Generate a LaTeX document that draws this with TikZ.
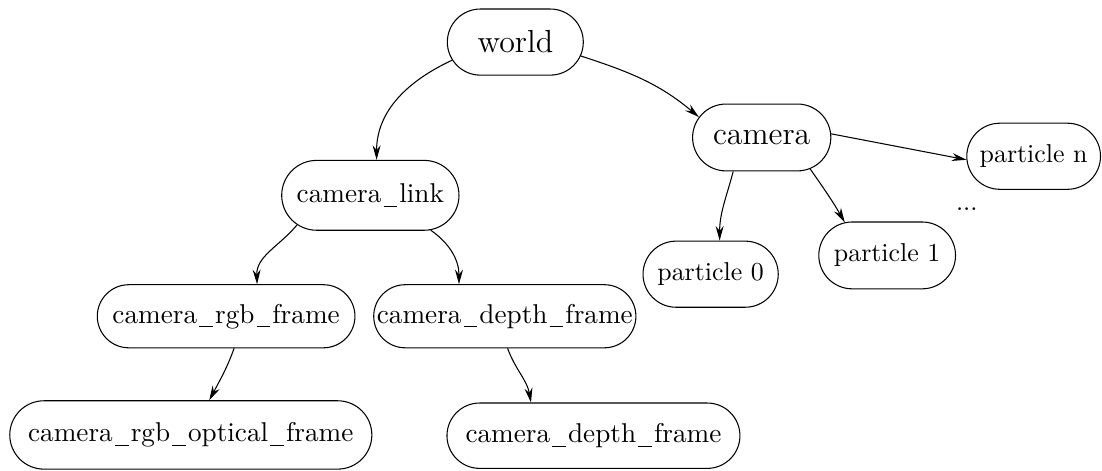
\documentclass[tikz,border=0pt]{standalone}
\usetikzlibrary{shapes.misc, arrows.meta, positioning}

% short underscore as in the frame names
\newcommand{\tfus}{\kern0.08em\rule[-0.35ex]{0.5em}{0.4pt}\kern0.08em}

\begin{document}
\begin{tikzpicture}[>={Stealth[length=5.5pt, width=3pt]}, thin]
    % Styles
    \tikzstyle{tf} = [draw, rounded rectangle, inner sep=0pt, minimum height=0.88cm]
    \tikzstyle{bigtf} = [tf, font=\fontsize{12.1}{14}\selectfont]
    \tikzstyle{frametf} = [tf, font=\fontsize{10.3}{13}\selectfont]
    \tikzstyle{parttf} = [tf, font=\fontsize{9.8}{12}\selectfont]

    \useasboundingbox (0,0) rectangle (14.67,-6.26);

    % Nodes
    \node (world) [bigtf, minimum width=1.81cm] at (6.86,-0.56) {\makebox[0pt]{world}};
    \node (camera) [bigtf, minimum width=1.84cm, minimum height=0.89cm] at (10.14,-1.83) {\makebox[0pt]{camera}};

    % camera children
    \node (partn) [parttf, minimum width=1.78cm] at (13.76,-2.08) {\makebox[0pt]{particle n}};
    \node (part1) [parttf, minimum width=1.82cm, minimum height=0.89cm] at (11.81,-3.40) {\makebox[0pt]{particle 1}};
    \node (part0) [parttf, minimum width=1.80cm] at (9.46,-3.65) {\makebox[0pt]{particle 0}};
    \node (dots) [font=\fontsize{9.8}{12}\selectfont] at (12.87,-2.79) {...};

    % camera_link branch
    \node (camlink) [frametf, minimum width=2.36cm, minimum height=0.93cm] at (4.93,-2.60) {\makebox[0pt]{camera\tfus link}};
    \node (rgbframe) [frametf, minimum width=3.43cm, minimum height=0.84cm] at (3.01,-4.21) {\makebox[0pt]{camera\tfus rgb\tfus frame}};
    \node (depthframe) [frametf, minimum width=3.49cm, minimum height=0.84cm] at (6.72,-4.21) {\makebox[0pt]{camera\tfus depth\tfus frame}};
    \node (rgboptical) [frametf, minimum width=4.82cm, minimum height=0.91cm] at (2.54,-5.79) {\makebox[0pt]{camera\tfus rgb\tfus optical\tfus frame}};
    \node (depthframe2) [frametf, minimum width=3.90cm, minimum height=0.87cm] at (7.90,-5.80) {\makebox[0pt]{camera\tfus depth\tfus frame}};

    % Paths
    \draw [->] (world.196) to[out=205, in=90] (camlink.80);
    \draw [->] (world.-12) to[out=-18, in=140] (camera.162);

    \draw [->] (camera.3) -- (partn.183);
    \draw [->] (camera.230) to[out=255, in=90] (part0.75);
    \draw [->] (camera.-33) to[out=-55, in=120] (part1.142);

    \draw [->] (camlink.202) to[out=230, in=92] (rgbframe.46);
    \draw [->] (camlink.-30) to[out=-35, in=90] (depthframe.145);

    \draw [->] (rgbframe.-76) to[out=250, in=62] (rgboptical.62);
    \draw [->] (depthframe.-85) to[out=-70, in=100] (depthframe2.152);

\end{tikzpicture}
\end{document}
